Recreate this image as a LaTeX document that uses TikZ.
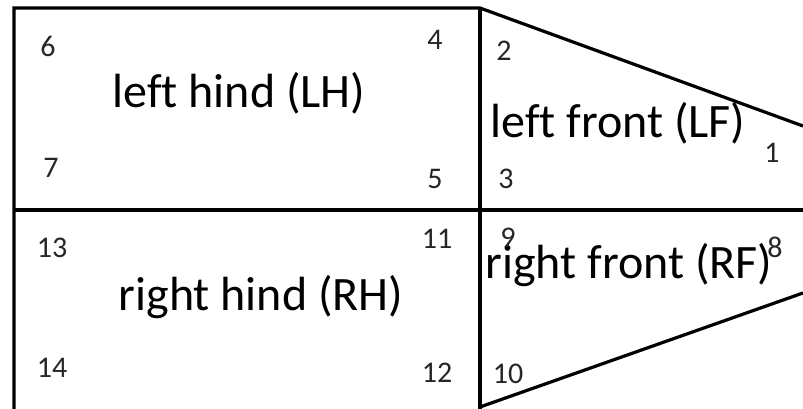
\documentclass[tikz,border=0pt]{standalone}
\usepackage{fontspec}
\setmainfont[Ligatures=NoCommon]{Carlito}
\begin{document}
\begin{tikzpicture}[x=1pt,y=-1pt,
  edge/.style={line width=3.2pt, line join=miter},
  region/.style={font=\fontsize{48}{52}\selectfont, anchor=base, inner sep=0pt},
  corner/.style={font=\fontsize{30}{34}\selectfont, anchor=base, inner sep=0pt, text=black!85}]
\useasboundingbox (0,0) rectangle (803,409);
\coordinate (tl) at (14,8);
\coordinate (tm) at (480,8);
\coordinate (tr) at (803,126);
\coordinate (ml) at (14,210);
\coordinate (mm) at (480,210);
\coordinate (mr) at (803,210);
\coordinate (bl) at (14,412);
\coordinate (bm) at (480,412);
\coordinate (bs) at (480,407);
\coordinate (br) at (803,293);
\draw[edge] (tr) -- (tm) -- (tl) -- (bl);
\draw[edge] (tm) -- (bm);
\draw[edge] (ml) -- (mr);
\draw[edge] (bs) -- (br);
\node[region] (LH) at (239,108) {left hind (LH)};
\node[region] (LF) at (618,138) {left front (LF)};
\node[region] (RH) at (261,310) {right hind (RH)};
\node[region] (RF) at (629,278) {right front (RF)};
\node[corner] (n6) at (48,57) {6};
\node[corner] (n7) at (51,177) {7};
\node[corner] (n4) at (435,50) {4};
\node[corner] (n5) at (435,188) {5};
\node[corner] (n2) at (504,61) {2};
\node[corner] (n3) at (506,188) {3};
\node[corner] (n1) at (772,163) {1};
\node[corner] (n13) at (52,257) {13};
\node[corner] (n14) at (52,377) {14};
\node[corner] (n11) at (437,248) {11};
\node[corner] (n12) at (437,382) {12};
\node[corner] (n9) at (508,247) {9};
\node[corner] (n8) at (775,257) {8};
\node[corner] (n10) at (508,383) {10};
\end{tikzpicture}
\end{document}
